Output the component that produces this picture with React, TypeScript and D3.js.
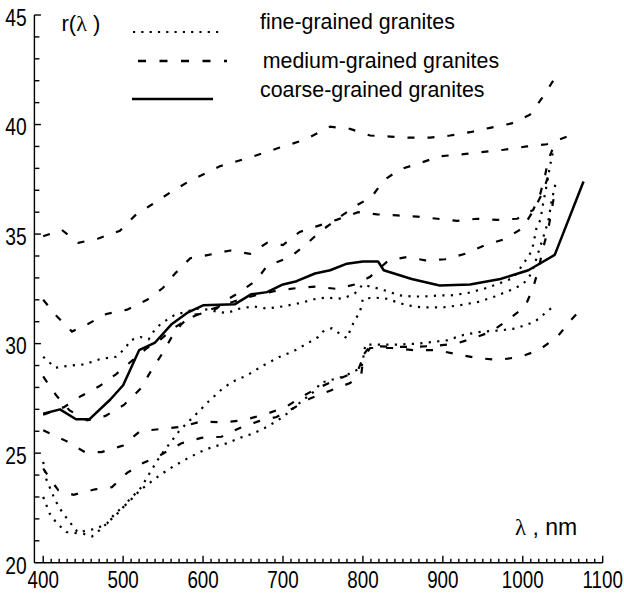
import React from "react";
import { scaleLinear, line, range } from "d3";

// reflectance spectra of granites, r(λ) in %, λ in nm
const fineA = [
  [400, 29.4], [415, 28.9], [434, 29.0], [451, 29.05], [472, 29.3], [491, 29.4], [503, 29.8],
  [509, 30.15], [522, 30.3], [532, 30.2], [539, 30.6], [547, 30.9], [564, 31.3], [578, 31.45],
  [593, 31.6], [607, 31.55], [618, 31.45], [630, 31.4], [646, 31.6], [663, 31.7], [680, 31.6],
  [700, 31.7], [721, 31.85], [742, 32.05], [753, 32.1], [775, 32.05], [790, 32.3], [800, 32.7],
  [809, 32.6], [821, 32.5], [834, 32.35], [846, 32.2], [863, 32.15], [876, 32.15], [896, 32.2],
  [909, 32.2], [930, 32.3], [951, 32.5], [971, 32.75], [988, 33.0], [1000, 33.6], [1009, 34.1],
  [1013, 34.5], [1017, 35.25], [1022, 35.65], [1026, 36.5], [1030, 37.25], [1034, 38.1], [1038, 38.8],
];
const fineB = [
  [400, 24.6], [404, 23.8], [415, 22.85], [423, 22.35], [431, 21.95], [442, 21.45], [452, 21.3],
  [461, 21.2], [471, 21.5], [484, 21.95], [496, 22.35], [506, 22.8], [523, 23.45], [530, 23.9],
  [546, 24.85], [571, 26.05], [596, 26.95], [608, 27.4], [623, 27.9], [636, 28.25], [655, 28.55],
  [675, 29.0], [696, 29.4], [713, 29.65], [730, 30.0], [744, 30.3], [750, 30.55], [761, 30.7],
  [771, 30.45], [780, 30.25], [784, 30.6], [790, 31.1], [796, 31.4], [800, 32.05], [815, 32.1],
  [830, 32.05], [842, 31.9], [855, 31.75], [875, 31.65], [899, 31.65], [921, 31.75], [944, 31.9],
  [965, 32.15], [985, 32.45], [1000, 32.7], [1011, 33.2], [1019, 34.1], [1026, 34.9], [1032, 35.6],
  [1036, 36.5], [1041, 37.3],
];
const fineC = [
  [400, 23.0], [408, 22.25], [417, 21.8], [429, 21.4], [442, 21.35], [452, 21.45], [466, 21.55],
  [480, 21.8], [490, 22.25], [505, 22.7], [521, 23.3], [546, 24.0], [563, 24.4], [580, 24.75],
  [596, 25.05], [613, 25.3], [630, 25.45], [646, 25.7], [663, 25.9], [680, 26.2], [700, 26.65],
  [721, 27.3], [742, 27.9], [746, 28.2], [776, 28.5], [798, 28.9], [800, 29.25], [803, 29.95],
  [838, 29.95], [870, 30.0], [905, 30.15], [926, 30.4], [949, 30.55], [972, 30.6], [992, 30.7],
  [1015, 31.0], [1030, 31.45], [1040, 31.75],
];

const mediumA = [
  [400, 34.9], [423, 35.2], [444, 34.6], [469, 34.8], [496, 35.15], [515, 35.85], [536, 36.35],
  [559, 36.9], [582, 37.4], [621, 38.1], [659, 38.5], [696, 38.95], [727, 39.3], [759, 39.9],
  [784, 39.8], [809, 39.5], [834, 39.45], [859, 39.4], [884, 39.4], [909, 39.5], [934, 39.65],
  [959, 39.85], [986, 40.05], [1009, 40.45], [1024, 41.2], [1038, 42.0],
];
const mediumB = [
  [400, 32.0], [417, 31.25], [436, 30.55], [456, 30.9], [479, 31.35], [505, 31.55], [530, 32.0],
  [550, 32.55], [565, 33.2], [584, 33.9], [607, 34.05], [634, 34.25], [659, 34.1], [680, 34.6],
  [700, 34.5], [721, 35.1], [742, 35.35], [767, 35.65], [794, 36.0], [818, 35.9], [843, 35.85],
  [868, 35.8], [893, 35.7], [918, 35.6], [943, 35.7], [968, 35.65], [993, 35.7], [1013, 36.1],
  [1022, 36.85], [1028, 37.7], [1032, 38.4], [1037, 38.85],
];
const mediumC = [
  [400, 28.5], [416, 27.65], [433, 26.95], [455, 26.5], [478, 26.7], [501, 27.2], [522, 27.95],
  [534, 28.7], [549, 29.55], [560, 30.25], [572, 30.85], [585, 31.3], [596, 31.35], [617, 31.6],
  [630, 32.0], [646, 32.35], [667, 32.9], [680, 33.55], [709, 33.95], [728, 34.5], [746, 35.1],
  [774, 35.85], [794, 36.35], [811, 36.7], [826, 37.45], [846, 37.95], [872, 38.25], [896, 38.55],
  [926, 38.65], [951, 38.75], [976, 38.85], [1005, 39.0], [1030, 39.1], [1059, 39.5],
];
const mediumD = [
  [400, 26.75], [426, 27.1], [447, 27.6], [470, 28.05], [491, 28.6], [512, 29.25], [530, 29.8],
  [547, 30.2], [565, 30.75], [585, 31.2], [605, 31.5], [625, 31.75], [645, 32.0], [665, 32.2],
  [690, 32.4], [720, 32.55], [741, 32.6], [767, 32.5], [790, 32.7], [809, 33.05], [832, 33.8],
  [855, 33.95], [878, 33.8], [903, 33.85], [928, 34.1], [953, 34.5], [976, 34.75], [999, 35.25],
  [1013, 36.05], [1025, 36.9], [1035, 38.0],
];
const mediumE = [
  [400, 26.05], [429, 25.55], [452, 25.05], [473, 25.05], [500, 25.35], [521, 26.0], [546, 26.1],
  [573, 26.2], [598, 26.45], [625, 26.4], [650, 26.5], [680, 26.8], [703, 27.1], [725, 27.6],
  [742, 27.95], [780, 28.55], [794, 28.8], [799, 29.25], [809, 29.8], [836, 29.8], [863, 29.7],
  [892, 29.7], [913, 29.55], [942, 29.35], [969, 29.25], [997, 29.4], [1020, 29.7], [1043, 30.3],
  [1061, 31.1], [1076, 31.7],
];
const mediumF = [
  [400, 24.3], [412, 23.65], [419, 23.3], [438, 23.1], [465, 23.35], [486, 23.45], [505, 24.1],
  [525, 24.55], [546, 24.9], [573, 25.45], [598, 25.7], [623, 25.75], [646, 26.15], [669, 26.45],
  [692, 26.65], [713, 27.05], [734, 27.5], [759, 27.85], [784, 28.2], [798, 28.6], [801, 29.5],
  [809, 29.9], [836, 29.85], [863, 29.85], [892, 29.9], [917, 30.0], [938, 30.25], [961, 30.55],
  [982, 31.1], [1003, 31.7], [1013, 32.55], [1020, 33.45], [1025, 34.3], [1032, 35.25], [1040, 36.9],
];

const coarse = [
  [400, 26.8], [421, 27.0], [441, 26.55], [458, 26.55], [484, 27.45], [500, 28.1], [520, 29.7],
  [540, 30.05], [561, 30.9], [580, 31.4], [600, 31.75], [640, 31.8], [660, 32.25], [680, 32.35],
  [700, 32.7], [717, 32.85], [740, 33.2], [759, 33.35], [780, 33.65], [800, 33.75], [819, 33.75],
  [826, 33.35], [861, 32.95], [896, 32.65], [934, 32.7], [972, 32.95], [1007, 33.35], [1040, 34.05],
  [1076, 37.4],
];

const fineSeries = [fineA, fineB, fineC];
const mediumSeries = [mediumA, mediumB, mediumC, mediumD, mediumE, mediumF];
const xTicks = [400, 500, 600, 700, 800, 900, 1000, 1100];
const yTicks = [20, 25, 30, 35, 40, 45];
const legendLabels = ["fine-grained granites", "medium-grained granites", "coarse-grained granites"];

const DOT = "2.2,6.3";
const DASH = "7,13";
const font = "'Liberation Sans', Arial, Helvetica, sans-serif";

export default function App() {
  const width = 624;
  const height = 593;
  const x = scaleLinear().domain([400, 1100]).range([43.2, 602.7]);
  const y = scaleLinear().domain([20, 45]).range([562.7, 15]);
  const axisX = x(389);
  const path = line<number[]>()
    .x((d) => x(d[0]))
    .y((d) => y(d[1]));

  return (
    <svg
      width={width}
      height={height}
      style={{ position: "absolute", left: 0, top: 0, background: "#fff" }}
      fontFamily={font}
    >
      <rect width={width} height={height} fill="#fff" />

      {/* axes */}
      <g stroke="#000" strokeWidth={1.4} fill="none">
        <line x1={axisX} x2={axisX} y1={y(45)} y2={y(20)} />
        <line x1={axisX} x2={x(1100)} y1={y(20)} y2={y(20)} />
        {range(21, 46).map((v) => (
          <line key={"yt" + v} x1={axisX} x2={axisX + (v % 5 === 0 ? 6.5 : 5)} y1={y(v)} y2={y(v)} />
        ))}
        {range(400, 1101, 10).map((v) => (
          <line key={"xt" + v} x1={x(v)} x2={x(v)} y1={y(20)} y2={y(20) - (v % 100 === 0 ? 7 : 4)} />
        ))}
      </g>
      {yTicks.map((v) => (
        <g key={"yl" + v} transform={`translate(${axisX - 7.8},${y(v) + 10.8}) scale(0.8,1)`}>
          <text fontSize={24} textAnchor="end">{v}</text>
        </g>
      ))}
      {xTicks.map((v) => (
        <g key={"xl" + v} transform={`translate(${x(v)},588) scale(0.8,1)`}>
          <text fontSize={23.5} textAnchor="middle">{v}</text>
        </g>
      ))}

      {/* axis titles */}
      <text x={61.5} y={31} fontSize={22}>
        r(<tspan fontFamily="'Liberation Serif', 'Times New Roman', serif">λ</tspan> )
      </text>
      <text x={515} y={535} fontSize={23}>
        <tspan fontFamily="'Liberation Serif', 'Times New Roman', serif">λ</tspan> , nm
      </text>

      {/* data */}
      <g fill="none" stroke="#000" strokeWidth={2.2}>
        {fineSeries.map((s, i) => (
          <path key={"f" + i} d={path(s) || ""} strokeDasharray={DOT} />
        ))}
        {mediumSeries.map((s, i) => (
          <path key={"m" + i} d={path(s) || ""} strokeDasharray={DASH} />
        ))}
        <path d={path(coarse) || ""} strokeWidth={2.5} strokeLinejoin="round" />
      </g>

      {/* legend */}
      <g fill="none" stroke="#000">
        <line x1={133} x2={220} y1={32} y2={32} strokeWidth={2.2} strokeDasharray="2.2,6.1" />
        <line x1={138} x2={227} y1={61} y2={61} strokeWidth={2.3} strokeDasharray="8,13.5" />
        <line x1={132} x2={213} y1={99} y2={99} strokeWidth={2.6} />
      </g>
      {legendLabels.map((t, i) => (
        <g key={t} transform={`translate(${i === 1 ? 262.7 : 260},${[29, 68, 97][i]}) scale(0.93,1)`}>
          <text fontSize={23}>{t}</text>
        </g>
      ))}
    </svg>
  );
}
